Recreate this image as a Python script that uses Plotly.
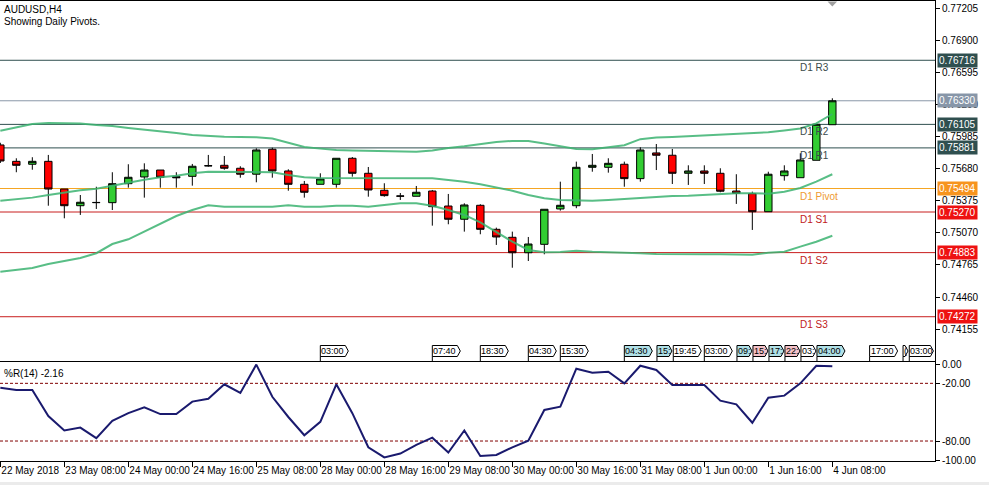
import plotly.graph_objects as go

W, H = 989, 485
FONT = "Liberation Sans, Arial, sans-serif"

# ---------------- data ----------------
bar_index = list(range(53))  # 4h bars, 22 May 16:00 ... 4 Jun 08:00

open_ = [0.75909, 0.75753, 0.75725, 0.75753, 0.75489, 0.75330, 0.75359, 0.75359, 0.75540, 0.75604,
         0.75670, 0.75607, 0.75610, 0.75712, 0.75715, 0.75687, 0.75630, 0.75868, 0.75661, 0.75534,
         0.75534, 0.75534, 0.75782, 0.75639, 0.75477, 0.75423, 0.75420, 0.75470, 0.75327, 0.75201,
         0.75334, 0.75105, 0.75029, 0.74882, 0.74962, 0.75299, 0.75330, 0.75696, 0.75696, 0.75725,
         0.75588, 0.75833, 0.75811, 0.75639, 0.75661, 0.75639, 0.75470, 0.75445, 0.75273, 0.75616,
         0.75597, 0.75763, 0.76102]
high = [0.75930, 0.75782, 0.75792, 0.75814, 0.75489, 0.75432, 0.75511, 0.75649, 0.75725, 0.75734,
        0.75670, 0.75649, 0.75728, 0.75814, 0.75804, 0.75706, 0.75877, 0.75883, 0.75677, 0.75566,
        0.75639, 0.75782, 0.75794, 0.75699, 0.75544, 0.75451, 0.75518, 0.75480, 0.75442, 0.75353,
        0.75344, 0.75121, 0.75083, 0.75032, 0.75296, 0.75559, 0.75750, 0.75823, 0.75782, 0.75750,
        0.75887, 0.75918, 0.75871, 0.75715, 0.75715, 0.75687, 0.75630, 0.75464, 0.75654, 0.75715,
        0.75830, 0.76106, 0.76354]
low = [0.75737, 0.75649, 0.75673, 0.75330, 0.75210, 0.75242, 0.75299, 0.75289, 0.75502, 0.75407,
       0.75502, 0.75502, 0.75521, 0.75702, 0.75673, 0.75597, 0.75553, 0.75597, 0.75473, 0.75407,
       0.75534, 0.75502, 0.75607, 0.75416, 0.75416, 0.75385, 0.75420, 0.75140, 0.75153, 0.75083,
       0.75058, 0.74956, 0.74739, 0.74803, 0.74867, 0.75283, 0.75306, 0.75654, 0.75645, 0.75511,
       0.75559, 0.75670, 0.75537, 0.75528, 0.75537, 0.75458, 0.75347, 0.75099, 0.75273, 0.75569,
       0.75597, 0.75763, 0.76102]
close = [0.75756, 0.75715, 0.75753, 0.75489, 0.75330, 0.75363, 0.75361, 0.75540, 0.75601, 0.75670,
         0.75601, 0.75597, 0.75706, 0.75710, 0.75687, 0.75630, 0.75861, 0.75661, 0.75534, 0.75458,
         0.75585, 0.75782, 0.75639, 0.75480, 0.75426, 0.75421, 0.75458, 0.75321, 0.75201, 0.75337,
         0.75105, 0.75032, 0.74882, 0.74965, 0.75296, 0.75334, 0.75696, 0.75715, 0.75734, 0.75588,
         0.75861, 0.75811, 0.75639, 0.75661, 0.75639, 0.75468, 0.75448, 0.75273, 0.75630, 0.75661,
         0.75766, 0.76106, 0.76330]

band_upper = [0.76045, 0.76080, 0.76109, 0.76119, 0.76119, 0.76114, 0.76099, 0.76090, 0.76071, 0.76057,
              0.76042, 0.76023, 0.76004, 0.75995, 0.75988, 0.75985, 0.75982, 0.75971, 0.75928, 0.75890,
              0.75874, 0.75861, 0.75856, 0.75852, 0.75847, 0.75845, 0.75845, 0.75856, 0.75880, 0.75896,
              0.75918, 0.75937, 0.75947, 0.75947, 0.75923, 0.75895, 0.75871, 0.75869, 0.75885, 0.75906,
              0.75964, 0.75980, 0.75985, 0.75993, 0.76004, 0.76014, 0.76018, 0.76023, 0.76031, 0.76047,
              0.76066, 0.76114, 0.76204]
band_middle = [0.75378, 0.75391, 0.75407, 0.75432, 0.75458, 0.75477, 0.75492, 0.75518, 0.75549, 0.75578,
               0.75601, 0.75616, 0.75639, 0.75654, 0.75654, 0.75654, 0.75654, 0.75649, 0.75623, 0.75601,
               0.75594, 0.75594, 0.75597, 0.75597, 0.75597, 0.75597, 0.75597, 0.75591, 0.75575, 0.75559,
               0.75534, 0.75506, 0.75473, 0.75432, 0.75401, 0.75385, 0.75378, 0.75378, 0.75385, 0.75394,
               0.75407, 0.75416, 0.75423, 0.75426, 0.75435, 0.75445, 0.75448, 0.75448, 0.75445, 0.75464,
               0.75499, 0.75559, 0.75630]
band_lower = [0.74701, 0.74717, 0.74736, 0.74775, 0.74803, 0.74832, 0.74877, 0.74965, 0.75010, 0.75083,
              0.75163, 0.75232, 0.75289, 0.75334, 0.75321, 0.75321, 0.75321, 0.75321, 0.75334, 0.75321,
              0.75321, 0.75330, 0.75330, 0.75321, 0.75337, 0.75353, 0.75353, 0.75330, 0.75289, 0.75242,
              0.75172, 0.75083, 0.74987, 0.74908, 0.74886, 0.74889, 0.74901, 0.74892, 0.74889, 0.74882,
              0.74877, 0.74870, 0.74867, 0.74867, 0.74867, 0.74867, 0.74863, 0.74863, 0.74882, 0.74892,
              0.74940, 0.74987, 0.75044]

williams_r = [-24.5, -27, -27, -54, -69, -66, -77, -59, -51, -45,
              -52, -52, -39, -36, -21, -30, -0.5, -34, -55, -74,
              -60, -21, -51, -86.5, -97, -93, -84, -76.5, -92, -69,
              -95.5, -94.5, -86.5, -79.6, -47.7, -44.3, -4.8, -8.9, -7.9, -20,
              -1.7, -6.1, -21.7, -21.7, -21.7, -38, -41.8, -61, -35, -32.8,
              -20, -1.7, -2.16]

pivot_names = ["D1 R3", "D1 R2", "D1 R1", "D1 Pivot", "D1 S1", "D1 S2", "D1 S3"]
pivot_levels = [0.76716, 0.76105, 0.75881, 0.75494, 0.75270, 0.74883, 0.74272]
bid_price = 0.76330

price_ticks = [0.77205, 0.76900, 0.76595, 0.76290, 0.75985, 0.75680, 0.75375,
               0.75070, 0.74765, 0.74460, 0.74155]
wr_ticks = [0, -20, -80, -100]
wr_tick_text = ["0.00", "-20.00", "-80.00", "-100.00"]

time_tick_pos = [0, 4, 8, 12, 16, 20, 24, 28, 32, 36, 40, 44, 48, 52]
time_tick_text = ["22 May 2018", "23 May 08:00", "24 May 00:00", "24 May 16:00", "25 May 08:00",
                  "28 May 00:00", "28 May 16:00", "29 May 08:00", "30 May 00:00", "30 May 16:00",
                  "31 May 08:00", "1 Jun 00:00", "1 Jun 16:00", "4 Jun 08:00"]

# calendar event tags: bar position, shown text, kind
event_pos = [20, 27, 30, 33, 35, 39, 41.04, 42.06, 44, 46.04, 47.04, 48.04, 49.04, 50.04, 51.04,
             54.33, 56.42, 56.81]
event_text = ["03:00", "07:40", "18:30", "04:30", "15:30", "04:30", "15:", "19:45", "03:00", "09:",
              "15:", "17:", "22:", "03:", "04:00", "17:00", "(", "03:00"]
event_kind = ["n", "n", "n", "n", "n", "b", "b", "n", "n", "b", "p", "b", "p", "n", "b", "n", "n", "n"]

# ---------------- styling ----------------
PX_PER_BAR = 16.0
x_range = [-0.02, 935 / PX_PER_BAR - 0.02]
main_dom = [1 - 361 / H, 1 - 1 / H]
wr_dom = [1 - 461 / H, 1 - 362 / H]
x_dom = [0, 935 / W]

R_COL, P_COL, S_COL = "#2F4F4F", "#F5A623", "#C81E1E"
line_cols = [R_COL, R_COL, R_COL, P_COL, S_COL, S_COL, S_COL]
box_cols = ["#2F4F4F", "#2F4F4F", "#2F4F4F", "#F7941D", "#EE1111", "#EE1111", "#EE1111"]
txt_cols = ["#3A4A4A", "#3A4A4A", "#3A4A4A", "#EE9A30", "#C02020", "#C02020", "#C02020"]
tag_fill = {"n": "#FFFFFF", "b": "#B0E0E6", "p": "#F4C2C8"}

fig = go.Figure()

fig.add_trace(go.Candlestick(
    x=bar_index, open=open_, high=high, low=low, close=close,
    increasing=dict(fillcolor="#32CD32", line=dict(color="black", width=1)),
    decreasing=dict(fillcolor="#FF0000", line=dict(color="black", width=1)),
    whiskerwidth=0, showlegend=False, hoverinfo="skip", xaxis="x", yaxis="y"))

for band in (band_upper, band_middle, band_lower):
    fig.add_trace(go.Scatter(x=bar_index, y=band, mode="lines",
                             line=dict(color="#3CB371", width=2), opacity=0.85,
                             showlegend=False, hoverinfo="skip", xaxis="x", yaxis="y"))

fig.add_trace(go.Scatter(x=bar_index, y=williams_r, mode="lines",
                         line=dict(color="#1A1A6E", width=2),
                         showlegend=False, hoverinfo="skip", xaxis="x2", yaxis="y2"))

shapes = []
annotations = []

# pivot lines, labels and price boxes
for name, lvl, lc, bc, tc in zip(pivot_names, pivot_levels, line_cols, box_cols, txt_cols):
    shapes.append(dict(type="line", xref="x domain", x0=0, x1=1, yref="y", y0=lvl, y1=lvl,
                       line=dict(color=lc, width=1), layer="below"))
    annotations.append(dict(text=name, xref="x", x=50 - 2 / PX_PER_BAR, xanchor="left",
                            yref="y", y=lvl, yanchor="top", showarrow=False,
                            font=dict(family=FONT, size=10, color=tc)))
    annotations.append(dict(text=f"{lvl:.5f}", xref="paper", x=937 / W, xanchor="left",
                            yref="y", y=lvl, yanchor="middle", showarrow=False,
                            bgcolor=bc, borderpad=1,
                            font=dict(family=FONT, size=10, color="white")))

# bid line
shapes.append(dict(type="line", xref="x domain", x0=0, x1=1, yref="y", y0=bid_price, y1=bid_price,
                   line=dict(color="#8A98A8", width=1), layer="below"))
annotations.append(dict(text=f"{bid_price:.5f}", xref="paper", x=937 / W, xanchor="left",
                        yref="y", y=bid_price, yanchor="middle", showarrow=False,
                        bgcolor="#8796A8", borderpad=1,
                        font=dict(family=FONT, size=10, color="white")))

# %R levels
for lv in (-20, -80):
    shapes.append(dict(type="line", xref="x2 domain", x0=0, x1=1, yref="y2", y0=lv, y1=lv,
                       line=dict(color="#800000", width=1, dash="3px,2px"), layer="below"))

# event tags at the bottom of the main window
tag_top, tag_bot = 1 - 345.5 / H, 1 - 356.5 / H
tag_mid = (tag_top + tag_bot) / 2
for pos, txt, kind in zip(event_pos, event_text, event_kind):
    wpx = 15 if txt.endswith(":") else 28
    if txt == "(":
        wpx = 5
    x0 = pos
    x1 = min(pos + wpx / PX_PER_BAR, x_range[1] - 0.1)
    xa = x1 - 3 / PX_PER_BAR
    path = (f"M {x0},{tag_top} L {xa},{tag_top} L {x1},{tag_mid} "
            f"L {xa},{tag_bot} L {x0},{tag_bot} Z")
    shapes.append(dict(type="path", xref="x", yref="paper", path=path,
                       fillcolor=tag_fill[kind], line=dict(color="black", width=1)))
    shapes.append(dict(type="line", xref="x", yref="paper", x0=x0, x1=x0,
                       y0=tag_bot, y1=1 - 361 / H, line=dict(color="black", width=1)))
    annotations.append(dict(text=txt, xref="x", x=x0 + 1 / PX_PER_BAR, xanchor="left",
                            yref="paper", y=tag_mid, yanchor="middle", showarrow=False,
                            borderpad=0, borderwidth=0,
                            font=dict(family=FONT, size=9, color="black")))

# chart shift marker
shapes.append(dict(type="path", xref="x", yref="paper",
                   path=f"M {52 - 0.3},{1 - 1.5 / H} L {52 + 0.3},{1 - 1.5 / H} L 52,{1 - 6.5 / H} Z",
                   fillcolor="#A0A0A0", line=dict(width=0)))

# bottom window strip
shapes.append(dict(type="rect", xref="paper", yref="paper", x0=0, x1=1, y0=0, y1=3 / H,
                   fillcolor="#EBEBEB", line=dict(width=0), layer="below"))

# titles
annotations += [
    dict(text="AUDUSD,H4", xref="paper", yref="paper", x=2 / W, y=1 - 2 / H,
         xanchor="left", yanchor="top", showarrow=False,
         font=dict(family=FONT, size=10, color="black")),
    dict(text="Showing Daily Pivots.", xref="paper", yref="paper", x=2 / W, y=1 - 14 / H,
         xanchor="left", yanchor="top", showarrow=False,
         font=dict(family=FONT, size=10, color="black")),
    dict(text="%R(14) -2.16", xref="paper", yref="paper", x=2 / W, y=1 - 366 / H,
         xanchor="left", yanchor="top", showarrow=False,
         font=dict(family=FONT, size=10, color="black")),
]

axis_common = dict(showgrid=False, zeroline=False, showline=True, linecolor="black",
                   linewidth=1, mirror=True, automargin=False)

fig.update_layout(
    width=W, height=H, margin=dict(l=0, r=0, t=0, b=0, pad=0, autoexpand=False),
    paper_bgcolor="white", plot_bgcolor="white",
    font=dict(family=FONT, size=10, color="black"),
    showlegend=False, hovermode=False, boxgap=0.34,
    shapes=shapes, annotations=annotations,
    xaxis=dict(domain=x_dom, range=x_range, anchor="y", showticklabels=False, ticks="",
               rangeslider=dict(visible=False), **axis_common),
    yaxis=dict(domain=main_dom, range=[0.73850, 0.77281], anchor="x", side="right",
               tickvals=price_ticks, ticktext=[f"{v:.5f}" for v in price_ticks],
               ticks="outside", ticklen=4, tickcolor="black",
               tickfont=dict(family=FONT, size=10, color="black"), **axis_common),
    xaxis2=dict(domain=x_dom, range=x_range, anchor="y2", matches="x",
                tickvals=time_tick_pos, ticktext=time_tick_text, tickangle=0,
                ticks="outside", ticklen=5, tickcolor="black",
                ticklabelposition="outside right",
                tickfont=dict(family=FONT, size=10, color="black"), **axis_common),
    yaxis2=dict(domain=wr_dom, range=[-100.76, 2.18], anchor="x2", side="right",
                tickvals=wr_ticks, ticktext=wr_tick_text,
                ticks="outside", ticklen=4, tickcolor="black",
                tickfont=dict(family=FONT, size=10, color="black"), **axis_common),
)

fig.write_html("out.html", config={"displayModeBar": False},
               post_script="document.body.style.margin='0px';document.body.style.overflow='hidden';")
